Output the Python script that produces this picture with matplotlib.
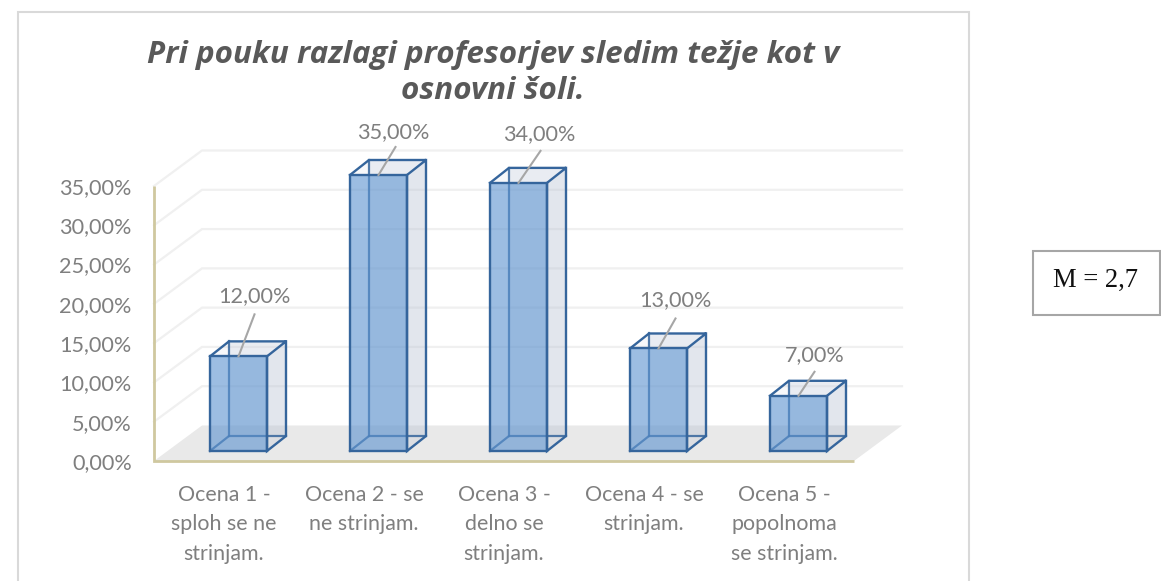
import matplotlib
matplotlib.use('Agg')
import matplotlib.pyplot as plt
from matplotlib.lines import Line2D
from matplotlib.patches import Polygon, Rectangle

W, H = 1161, 581

title = 'Pri pouku razlagi profesorjev sledim težje kot v\nosnovni šoli.'
categories = ['Ocena 1 -\nsploh se ne\nstrinjam.', 'Ocena 2 - se\nne strinjam.\n ',
              'Ocena 3 -\ndelno se\nstrinjam.', 'Ocena 4 - se\nstrinjam.\n ',
              'Ocena 5 -\npopolnoma\nse strinjam.']
values = [12, 35, 34, 13, 7]
value_labels = ['12,00%', '35,00%', '34,00%', '13,00%', '7,00%']
y_ticks = [0, 5, 10, 15, 20, 25, 30, 35]
y_labels = ['0,00%', '5,00%', '10,00%', '15,00%', '20,00%', '25,00%', '30,00%', '35,00%']

# label offset from the top of the bar, pixels
label_dx = [16, 15, 21, 17, 16]
label_dy = [60, 43, 49, 48, 41]
line_end_dx = [16, 17, 22, 17, 16]
line_end_dy = [42, 28, 32, 30, 24]

plt.rcParams['font.family'] = ['Lato', 'DejaVu Sans']

fig = plt.figure(figsize=(W / 100, H / 100), dpi=100)
# front plane of the chart, 154..854 px wide and 186..461 px tall
ax = fig.add_axes([154 / W, 1 - 461 / H, 700 / W, 275 / H])
ax.set_xlim(0, 5)
ax.set_ylim(0, 35)
ax.patch.set_alpha(0)
for s in ax.spines.values():
    s.set_visible(False)

px = 5 / 700      # data units per pixel
py = 35 / 275

# back wall and floor
depth_x, depth_y = 48 * px, 35.5 * py
grid_color = '#f0f0f0'
for t in y_ticks[1:]:
    ax.plot([0, depth_x, 5 + depth_x], [t, t + depth_y, t + depth_y], color=grid_color, lw=1.6,
            clip_on=False, zorder=1, solid_joinstyle='miter')
ax.add_patch(Polygon([(0, 0), (5, 0), (5 + depth_x, depth_y), (depth_x, depth_y)],
                     closed=True, fc='#e9e9e9', ec='none', clip_on=False, zorder=1.5))

# axis lines
axis_color = '#cfc89f'
ax.plot([0, 0, 5], [35, 0, 0], color=axis_color, lw=2, clip_on=False, zorder=2,
        solid_joinstyle='miter', solid_capstyle='butt')

# 3D bars
edge = '#35659c'
bar_w = 57 * px
bar_dx, bar_dy = 19 * px, 15 * py
shift_x, shift_y = 14.5 * px, 10 * py
for i, v in enumerate(values):
    x0 = i + 0.5 + shift_x - bar_w / 2
    x1 = x0 + bar_w
    y0 = shift_y
    y1 = shift_y + v * (276 / 275) * (275 * py / 35)
    # right side and top, pale
    ax.add_patch(Polygon([(x1, y0), (x1 + bar_dx, y0 + bar_dy), (x1 + bar_dx, y1 + bar_dy), (x1, y1)],
                         fc='#a9b5c9', alpha=0.2, ec='none', clip_on=False, zorder=3))
    ax.add_patch(Polygon([(x0, y1), (x1, y1), (x1 + bar_dx, y1 + bar_dy), (x0 + bar_dx, y1 + bar_dy)],
                         fc='#c3cbdb', alpha=0.12, ec='none', clip_on=False, zorder=3))
    # back panel seen through the front
    ax.add_patch(Polygon([(x0 + bar_dx, y0 + bar_dy), (x1 + bar_dx, y0 + bar_dy),
                          (x1 + bar_dx, y1 + bar_dy), (x0 + bar_dx, y1 + bar_dy)],
                         fc='#c3cbdb', alpha=0.25, ec='none', clip_on=False, zorder=3))
    # hidden edges
    ax.plot([x0, x0 + bar_dx, x1 + bar_dx], [y0, y0 + bar_dy, y0 + bar_dy], color=edge, lw=1.6,
            clip_on=False, zorder=4, alpha=0.85)
    ax.plot([x0 + bar_dx, x0 + bar_dx], [y0 + bar_dy, y1 + bar_dy], color=edge, lw=1.6,
            clip_on=False, zorder=4, alpha=0.85)
    # front face
    ax.add_patch(Rectangle((x0, y0), bar_w, y1 - y0, fc='#5b92cf', alpha=0.6, ec='none',
                           clip_on=False, zorder=5))
    # visible edges
    ax.add_patch(Rectangle((x0, y0), bar_w, y1 - y0, fc='none', ec=edge, lw=1.7,
                           clip_on=False, zorder=6))
    ax.plot([x0, x0 + bar_dx, x1 + bar_dx, x1, x1, x1 + bar_dx, x1 + bar_dx],
            [y1, y1 + bar_dy, y1 + bar_dy, y1, y0, y0 + bar_dy, y1 + bar_dy],
            color=edge, lw=1.7, clip_on=False, zorder=6, solid_joinstyle='miter')
    # data label and its leader line
    xc = (x0 + x1) / 2
    ax.plot([xc, xc + line_end_dx[i] * px], [y1, y1 + line_end_dy[i] * py], color='#a6a6a6', lw=1.5,
            clip_on=False, zorder=7)
    ax.text(xc + label_dx[i] * px, y1 + label_dy[i] * py, value_labels[i], ha='center', va='center',
            fontsize=15.6, color='#7f7f7f', clip_on=False, zorder=8)

# tick labels
ax.set_yticks(y_ticks)
ax.set_yticklabels(y_labels, fontsize=15.6, color='#7f7f7f')
ax.set_xticks([i + 0.5 for i in range(len(categories))])
ax.set_xticklabels(categories, fontsize=15.4, color='#7f7f7f', linespacing=1.6)
ax.tick_params(axis='both', length=0)
ax.tick_params(axis='y', pad=16)
ax.tick_params(axis='x', pad=17)

# chart frame, open at the bottom of the image
frame = '#d9d9d9'
fig.add_artist(Line2D([17.5 / W, 17.5 / W, 969 / W, 969 / W], [0, 1 - 12 / H, 1 - 12 / H, 0],
                      color=frame, lw=1.5, solid_joinstyle='miter'))

fig.text(493 / W, 1 - 73 / H, title, ha='center', va='center', fontsize=22.6, fontweight='bold',
         fontstyle='italic', color='#595959', linespacing=1.3, family='Open Sans')

# mean box
fig.add_artist(Rectangle((1033 / W, 1 - 315 / H), 126.5 / W, 64 / H, fc='white', ec='#a6a6a6', lw=1.5,
                         transform=fig.transFigure))
fig.text(1053 / W, 1 - 287 / H, 'M = 2,7', ha='left', va='baseline', fontsize=19.2, color='#111111',
         family='Liberation Serif')

fig.savefig('out.png', dpi=100)
